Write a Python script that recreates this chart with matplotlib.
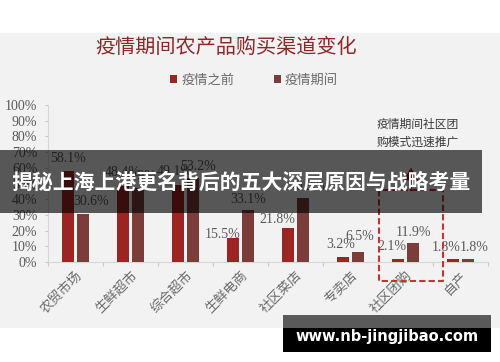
import matplotlib
matplotlib.use('Agg')
import matplotlib.pyplot as plt
from matplotlib.patches import Rectangle, Polygon
from matplotlib.lines import Line2D
import numpy as np

plt.rcParams['font.family'] = ['Noto Sans CJK SC', 'DejaVu Sans']

# ---- data ----
categories = ['农贸市场', '生鲜超市', '综合超市', '生鲜电商', '社区菜店', '专卖店', '社区团购', '自产']
before = [58.1, 48.4, 49.1, 15.5, 21.8, 3.2, 2.1, 1.8]
during = [30.6, 46.9, 53.2, 33.1, 40.9, 6.5, 11.9, 1.8]
series_names = ['疫情之前', '疫情期间']
ytick_vals = [0, 10, 20, 30, 40, 50, 60, 70, 80, 90, 100]
ytick_labels = [f'{v}%' for v in ytick_vals]
title = '疫情期间农产品购买渠道变化'
note = '疫情期间社区团\n购模式迅速推广'
highlight_idx = 6
banner = '揭秘上海上港更名背后的五大深层原因与战略考量'
url = 'www.nb-jingjibao.com'

# ---- style ----
c_before = '#9b2522'
c_during = '#7a3d3a'
label_color = '#595959'
before_dx = [0, 0, -3, -10, -10, -2, -6, -7]
before_dy = [12, 14, 13, 3, 8, 12, 12, 12]
during_dx = [8, 0, 5, 0, 4, 2, 0, 6]
during_dy = [12, 12, 12, 11, 11, 15, 11, 12]

W, H = 500, 362
fig = plt.figure(figsize=(W / 100, H / 100), dpi=100)
fig.patch.set_facecolor('white')

# gray panel background
fig.patches.append(Rectangle((0, 1 - 328 / H), 1, (328 - 33) / H, transform=fig.transFigure,
                             facecolor='#f2f2f2', edgecolor='none', zorder=-5))

ax = fig.add_axes([48 / W, 1 - 262 / H, 440 / W, 157 / H])
ax.set_facecolor('none')

x = np.arange(len(categories))
bw = 0.22
off = 0.14
b1 = ax.bar(x - off, np.array(before) / 100, bw, color=c_before, label=series_names[0], zorder=3)
b2 = ax.bar(x + off, np.array(during) / 100, bw, color=c_during, label=series_names[1], zorder=3)

serif = 'Liberation Serif'
for i in range(len(categories)):
    ax.annotate(f'{before[i]}%', (x[i] - off, before[i] / 100), xytext=(before_dx[i], before_dy[i]),
                textcoords='offset pixels', ha='center', va='center', fontsize=10,
                color=label_color, family=serif, zorder=4)
    ax.annotate(f'{during[i]}%', (x[i] + off, during[i] / 100), xytext=(during_dx[i], during_dy[i]),
                textcoords='offset pixels', ha='center', va='center', fontsize=10,
                color=label_color, family=serif, zorder=4)

ax.set_xlim(-0.5, len(categories) - 0.5)
ax.set_ylim(0, 1.0)
ax.set_yticks(np.array(ytick_vals) / 100)
ax.set_yticklabels(ytick_labels, family=serif, fontsize=10, color=label_color)
ax.tick_params(axis='y', length=2.2, pad=5.5, color='#c8c8c8', width=0.8)

ax.set_xticks(x)
ax.set_xticklabels(categories, rotation=45, ha='right', va='top', rotation_mode='anchor',
                   fontsize=9.5, color='#6a6a6a')
ax.tick_params(axis='x', which='major', length=0, pad=5)
ax.set_xticks(np.arange(-0.5, len(categories), 1), minor=True)
ax.tick_params(axis='x', which='minor', length=3, color='#c8c8c8', width=0.8)

for s in ['top', 'right']:
    ax.spines[s].set_visible(False)
for s in ['left', 'bottom']:
    ax.spines[s].set_color('#d6d6d6')
    ax.spines[s].set_linewidth(0.8)

# title & legend
fig.text(226 / W, 1 - 47 / H, title, ha='center', va='center', fontsize=14.5, color='#8c2828')
leg = ax.legend(handles=[b1, b2], loc='center', bbox_to_anchor=(254 / W, 1 - 80 / H),
                bbox_transform=fig.transFigure, ncol=2, frameon=False, fontsize=9.5,
                handlelength=0.55, handleheight=0.55, handletextpad=0.3, columnspacing=3.0,
                labelcolor='#6a6a6a')

# highlight box around community group-buying
red = '#c83232'
xl, xr = highlight_idx - 0.48, highlight_idx + 0.68
yb, yt = -0.121, 0.459
ax.add_line(Line2D([xl, xl, xr, xr, xl], [yt, yb, yb, yt, yt], color=red, lw=1.5,
                   linestyle=(0, (3, 1.5)), clip_on=False, zorder=5))
cx = highlight_idx + 0.1
ax.add_line(Line2D([cx, cx], [yt, 0.53], color=red, lw=1.5, clip_on=False, zorder=5))
ax.add_patch(Polygon([[cx - 0.14, 0.52], [cx + 0.14, 0.52], [cx, 0.6]], closed=True,
                     facecolor='#a02020', edgecolor='none', clip_on=False, zorder=5))
fig.text(418 / W, 1 - 133.5 / H, note, ha='center', va='center', fontsize=8.5,
         color='#3a3a3a', linespacing=1.45, fontweight='medium')

# overlay banner
fig.patches.append(Rectangle((0, 1 - 213 / H), 482 / W, 63 / H, transform=fig.transFigure,
                             facecolor='black', alpha=0.64, edgecolor='none', zorder=10))
fig.text(241 / W, 1 - 182 / H, banner, ha='center', va='center', fontsize=15,
         color='white', fontweight='bold', zorder=11)

# url box
fig.patches.append(Rectangle((283 / W, 1 - 328 / H), 208 / W, 13 / H, transform=fig.transFigure,
                             facecolor='#5a5a5a', edgecolor='none', zorder=10))
fig.patches.append(Rectangle((283 / W, 1 - 352 / H), 208 / W, 24 / H, transform=fig.transFigure,
                             facecolor='black', edgecolor='none', zorder=10))
fig.text(387 / W, 1 - 337 / H, url, ha='center', va='center', fontsize=10.5,
         color='white', fontweight='bold', family='DejaVu Sans', zorder=11)

fig.savefig('out.png', dpi=100)
